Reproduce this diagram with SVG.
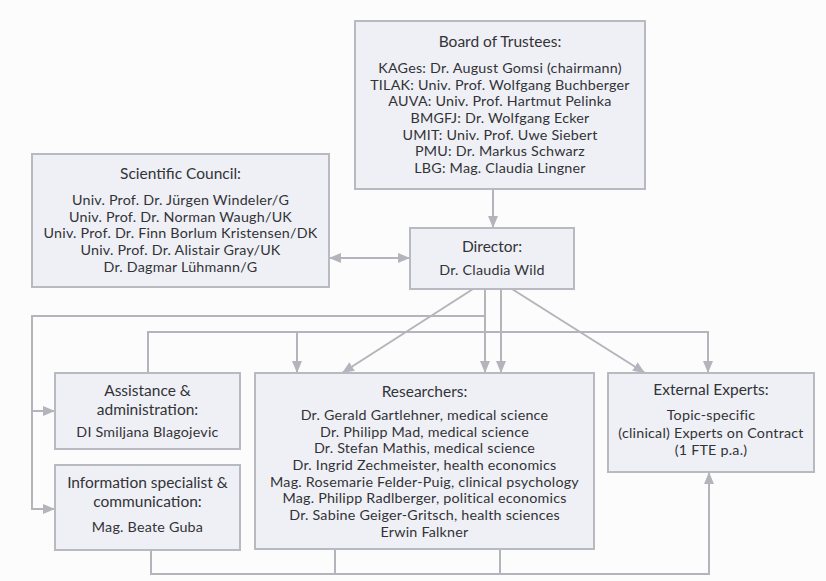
<svg xmlns="http://www.w3.org/2000/svg" width="826" height="581" viewBox="0 0 826 581">
<defs>
<marker id="ah" viewBox="0 0 12 10" refX="12" refY="5" markerWidth="12" markerHeight="10" markerUnits="userSpaceOnUse" orient="auto-start-reverse">
<path d="M0,0 L12,5 L0,10 z" fill="#b4b4bc"/>
</marker>
<style>
.box{fill:#eef0f5;stroke:#b9b9c1;stroke-width:2}
.t{font-family:Lato,"Open Sans","Liberation Sans",sans-serif;font-size:15.5px;fill:#333337;text-anchor:middle}
.b{font-family:Lato,"Open Sans","Liberation Sans",sans-serif;font-size:14.3px;letter-spacing:0.22px;fill:#333337;text-anchor:middle}
.c{fill:none;stroke:#b4b4bc;stroke-width:2}
.a{marker-end:url(#ah)}
</style>
</defs>
<rect width="826" height="581" fill="#fcfcfc"/>
<g id="connectors">
<path class="c a" d="M493,189 V228"/>
<path class="c a" d="M329,258 H410" marker-start="url(#ah)"/>
<path class="c a" d="M473,289 L342,373"/>
<path class="c a" d="M512,289 L645,373"/>
<path class="c a" d="M485,289 V373"/>
<path class="c a" d="M501,289 V373"/>
<path class="c a" d="M485,316 H32 V509 H55"/>
<path class="c a" d="M32,411 H55"/>
<path class="c a" d="M148,373 V332 H708 V373"/>
<path class="c a" d="M297,332 V373"/>
<path class="c a" d="M151,550 V574 H709 V472"/>
<path class="c" d="M335,549 V574"/>
<path class="c" d="M500,549 V574"/>
</g>
<g id="board">
<rect class="box" x="355" y="21" width="290" height="168"/>
<text class="t" x="500" y="47">Board of Trustees:</text>
<text class="b" x="500" y="73">KAGes: Dr. August Gomsi (chairmann)</text>
<text class="b" x="500" y="89.7">TILAK: Univ. Prof. Wolfgang Buchberger</text>
<text class="b" x="500" y="106.3">AUVA: Univ. Prof. Hartmut Pelinka</text>
<text class="b" x="500" y="123">BMGFJ: Dr. Wolfgang Ecker</text>
<text class="b" x="500" y="139.7">UMIT: Univ. Prof. Uwe Siebert</text>
<text class="b" x="500" y="156.3">PMU: Dr. Markus Schwarz</text>
<text class="b" x="500" y="173">LBG: Mag. Claudia Lingner</text>
</g>
<g id="council">
<rect class="box" x="32" y="154" width="297" height="133"/>
<text class="t" x="180.5" y="179">Scientific Council:</text>
<text class="b" x="180.5" y="205">Univ. Prof. Dr. Jürgen Windeler/G</text>
<text class="b" x="180.5" y="221.7">Univ. Prof. Dr. Norman Waugh/UK</text>
<text class="b" x="180.5" y="238.3">Univ. Prof. Dr. Finn Borlum Kristensen/DK</text>
<text class="b" x="180.5" y="255">Univ. Prof. Dr. Alistair Gray/UK</text>
<text class="b" x="180.5" y="271.7">Dr. Dagmar Lühmann/G</text>
</g>
<g id="director">
<rect class="box" x="410" y="228" width="164" height="61"/>
<text class="t" x="492" y="252">Director:</text>
<text class="b" x="492" y="275">Dr. Claudia Wild</text>
</g>
<g id="assistance">
<rect class="box" x="55" y="373" width="185" height="76"/>
<text class="t" x="147.5" y="396">Assistance &amp;</text>
<text class="t" x="147.5" y="415">administration:</text>
<text class="b" x="147.5" y="437">DI Smiljana Blagojevic</text>
</g>
<g id="information">
<rect class="box" x="55" y="465" width="185" height="85"/>
<text class="t" x="147.5" y="488">Information specialist &amp;</text>
<text class="t" x="147.5" y="507">communication:</text>
<text class="b" x="147.5" y="532">Mag. Beate Guba</text>
</g>
<g id="researchers">
<rect class="box" x="255" y="373" width="339" height="176"/>
<text class="t" x="424.5" y="397">Researchers:</text>
<text class="b" x="424.5" y="420">Dr. Gerald Gartlehner, medical science</text>
<text class="b" x="424.5" y="436.7">Dr. Philipp Mad, medical science</text>
<text class="b" x="424.5" y="453.3">Dr. Stefan Mathis, medical science</text>
<text class="b" x="424.5" y="470">Dr. Ingrid Zechmeister, health economics</text>
<text class="b" x="424.5" y="486.7">Mag. Rosemarie Felder-Puig, clinical psychology</text>
<text class="b" x="424.5" y="503.3">Mag. Philipp Radlberger, political economics</text>
<text class="b" x="424.5" y="520">Dr. Sabine Geiger-Gritsch, health sciences</text>
<text class="b" x="424.5" y="536.7">Erwin Falkner</text>
</g>
<g id="external">
<rect class="box" x="608" y="373" width="206" height="99"/>
<text class="t" x="711" y="395">External Experts:</text>
<text class="b" x="711" y="420">Topic-specific</text>
<text class="b" x="711" y="437.5">(clinical) Experts on Contract</text>
<text class="b" x="711" y="455">(1 FTE p.a.)</text>
</g>
</svg>
